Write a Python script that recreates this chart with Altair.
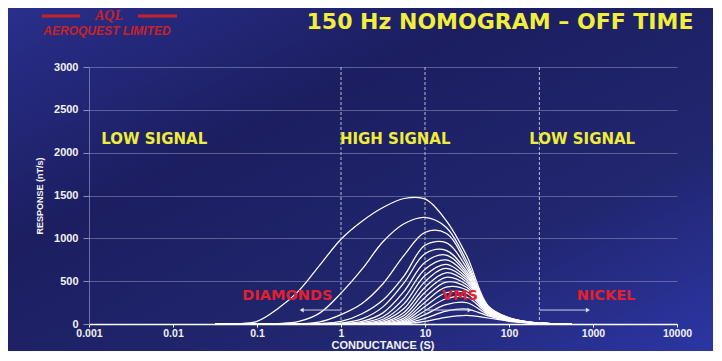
import altair as alt
import pandas as pd

# ---------------- data ----------------
conductance = [0.0316, 0.0562, 0.1, 0.178, 0.316, 0.562, 1.0, 1.78, 3.16, 5.62,
               10.0, 17.8, 31.6, 56.2, 100.0, 178.0, 316.0, 562.0]

curve_01 = [0, 3, 30, 180, 390, 690, 990, 1200, 1360, 1465, 1460, 1210, 790, 215, 75, 22, 5, 0]
curve_02 = [0, 0, 0, 5, 30, 130, 360, 640, 960, 1170, 1245, 1130, 730, 205, 72, 21, 5, 0]
curve_03 = [0, 0, 0, 0, 3, 25, 110, 240, 470, 800, 1070, 1060, 690, 195, 70, 20, 5, 0]
curve_04 = [0, 0, 0, 0, 0, 5, 30, 120, 280, 560, 920, 950, 650, 190, 68, 20, 5, 0]
curve_05 = [0, 0, 0, 0, 0, 0, 10, 60, 200, 480, 820, 860, 610, 185, 66, 19, 5, 0]
curve_06 = [0, 0, 0, 0, 0, 0, 2, 30, 130, 380, 720, 805, 585, 180, 64, 19, 4, 0]
curve_07 = [0, 0, 0, 0, 0, 0, 0, 15, 85, 300, 640, 748, 560, 175, 62, 18, 4, 0]
curve_08 = [0, 0, 0, 0, 0, 0, 0, 5, 55, 235, 565, 697, 535, 170, 60, 18, 4, 0]
curve_09 = [0, 0, 0, 0, 0, 0, 0, 2, 35, 180, 495, 650, 510, 165, 58, 17, 4, 0]
curve_10 = [0, 0, 0, 0, 0, 0, 0, 0, 20, 135, 430, 598, 485, 160, 56, 17, 4, 0]
curve_11 = [0, 0, 0, 0, 0, 0, 0, 0, 12, 100, 370, 545, 455, 155, 54, 16, 4, 0]
curve_12 = [0, 0, 0, 0, 0, 0, 0, 0, 6, 70, 310, 490, 425, 148, 52, 16, 4, 0]
curve_13 = [0, 0, 0, 0, 0, 0, 0, 0, 3, 48, 255, 430, 395, 140, 50, 15, 4, 0]
curve_14 = [0, 0, 0, 0, 0, 0, 0, 0, 1, 30, 205, 365, 360, 132, 48, 15, 4, 0]
curve_15 = [0, 0, 0, 0, 0, 0, 0, 0, 0, 18, 155, 295, 312, 122, 45, 14, 3, 0]
curve_16 = [0, 0, 0, 0, 0, 0, 0, 0, 0, 10, 110, 225, 248, 110, 42, 13, 3, 0]
curve_17 = [0, 0, 0, 0, 0, 0, 0, 0, 0, 5, 65, 150, 175, 95, 38, 12, 3, 0]
curve_18 = [0, 0, 0, 0, 0, 0, 0, 0, 0, 2, 30, 78, 100, 70, 32, 10, 3, 0]

curves = [curve_01, curve_02, curve_03, curve_04, curve_05, curve_06, curve_07,
          curve_08, curve_09, curve_10, curve_11, curve_12, curve_13, curve_14,
          curve_15, curve_16, curve_17, curve_18]

x_ticks = [0.001, 0.01, 0.1, 1, 10, 100, 1000, 10000]
y_ticks = [0, 500, 1000, 1500, 2000, 2500, 3000]
boundaries = [1, 10, 230]

zone_labels = ["LOW SIGNAL", "HIGH SIGNAL", "LOW SIGNAL"]
zone_x = [0.0014, 0.97, 174]
zone_y = [2160, 2160, 2160]

target_labels = ["DIAMONDS", "VMS", "NICKEL"]
target_x = [0.23, 26, 1430]
target_y = [327, 327, 327]
arrow_from = [1, 10, 230]
arrow_to = [0.34, 34, 870]
arrow_y = [163, 163, 163]
arrow_dir = ["left", "right", "right"]

x_title = "CONDUCTANCE (S)"

# ---------------- layout ----------------
W, H = 588, 257
PAD_L, PAD_T, PAD_R, PAD_B = 81, 59, 36, 27

rows = []
for i, vals in enumerate(curves):
    for c, r in zip(conductance, vals):
        rows.append({"curve": i + 1, "c": c, "r": r})
df = pd.DataFrame(rows)

xscale = alt.Scale(type="log", domain=[0.001, 10000], nice=False)
yscale = alt.Scale(domain=[0, 3000], nice=False)

X_AXIS = alt.Axis(
    values=x_ticks, format="~g", title=None, grid=False,
    domainColor="white", domainWidth=1.5, tickColor="white", tickSize=3,
    labelColor="#f2f2f2", labelFont="Liberation Sans", labelFontSize=10.5,
    labelFontWeight="bold", labelPadding=1, labelFlush=False, zindex=1)
Y_AXIS = alt.Axis(
    values=y_ticks, format="d", title="RESPONSE (nT/s)", grid=True,
    gridColor="#b8b8e0", gridOpacity=0.4, gridWidth=1,
    domainColor="#9090c0", domainOpacity=0.7, tickColor="#9090c0", tickSize=6,
    labelColor="#f2f2f2", labelFont="Liberation Sans", labelFontSize=11,
    labelFontWeight="bold", labelPadding=5,
    titleColor="#f2f2f2", titleFont="Liberation Sans", titleFontSize=9,
    titleFontWeight="bold", titlePadding=9, zindex=1)


def X(field):
    return alt.X(field, scale=xscale, axis=X_AXIS)


def Y(field):
    return alt.Y(field, scale=yscale, axis=Y_AXIS)


grad = alt.LinearGradient(
    gradient="linear",
    stops=[alt.GradientStop(color="#292f8c", offset=0),
           alt.GradientStop(color="#1c1e60", offset=0.35),
           alt.GradientStop(color="#21266f", offset=0.7),
           alt.GradientStop(color="#2c36a4", offset=1)],
    x1=0, y1=0, x2=1, y2=1)

bg = alt.Chart(pd.DataFrame({"a": [0]})).mark_rect(fill=grad).encode(
    x=alt.value(-PAD_L), x2=alt.value(W + PAD_R),
    y=alt.value(-PAD_T), y2=alt.value(H + PAD_B))

lines = alt.Chart(df).mark_line(
    interpolate="catmull-rom", color="white", strokeWidth=1.25, clip=True
).encode(x=X("c:Q"), y=Y("r:Q"), detail="curve:N")

vlines = alt.Chart(pd.DataFrame({"c": boundaries})).mark_rule(
    color="#d8d8ee", strokeWidth=1, strokeDash=[3, 2], opacity=0.85
).encode(x=X("c:Q"))

zones = alt.Chart(pd.DataFrame({"t": zone_labels, "c": zone_x, "r": zone_y})).mark_text(
    align="left", baseline="middle", font="DejaVu Sans", fontWeight="bold",
    fontSize=15, color="#f0ec3a"
).encode(x=X("c:Q"), y=Y("r:Q"), text="t:N")

targets = alt.Chart(pd.DataFrame({"t": target_labels, "c": target_x, "r": target_y})).mark_text(
    align="center", baseline="middle", font="DejaVu Sans", fontWeight="bold",
    fontSize=14.5, color="#e3202c"
).encode(x=X("c:Q"), y=Y("r:Q"), text="t:N")

adf = pd.DataFrame({"c": arrow_from, "c2": arrow_to, "r": arrow_y, "d": arrow_dir})
arrow_lines = alt.Chart(adf).mark_rule(color="#d0d0e0", strokeWidth=1).encode(
    x=X("c:Q"), x2="c2:Q", y=Y("r:Q"))
arrow_heads = alt.Chart(adf).mark_point(filled=True, size=22, color="#e0e0ee", opacity=1).encode(
    x=X("c2:Q"), y=Y("r:Q"),
    shape=alt.Shape("d:N", scale=alt.Scale(domain=["left", "right"],
                                           range=["triangle-left", "triangle-right"]),
                    legend=None))

xtitle = alt.Chart(pd.DataFrame({"t": [x_title]})).mark_text(
    align="center", baseline="alphabetic", font="Liberation Sans", fontWeight="bold",
    fontSize=11, color="#f2f2f2"
).encode(x=alt.value(W / 2), y=alt.value(H + 25), text="t:N")

title = alt.Chart(pd.DataFrame({"t": ["150 Hz NOMOGRAM \u2013 OFF TIME"]})).mark_text(
    align="center", baseline="middle", font="DejaVu Sans", fontWeight="bold",
    fontSize=22, color="#f2ee3c"
).encode(x=alt.value(411), y=alt.value(-45), text="t:N")

logo_rules = alt.Chart(pd.DataFrame({"a": [0]})).mark_rule(
    color="#c82226", strokeWidth=3
).encode(x=alt.value(-47), x2=alt.value(-9), y=alt.value(-51))
logo_rules2 = alt.Chart(pd.DataFrame({"a": [0]})).mark_rule(
    color="#c82226", strokeWidth=3
).encode(x=alt.value(49), x2=alt.value(88), y=alt.value(-51))
logo_aql = alt.Chart(pd.DataFrame({"t": ["AQL"]})).mark_text(
    align="center", baseline="middle", font="Liberation Serif", fontStyle="italic",
    fontWeight="bold", fontSize=14, color="#c82226"
).encode(x=alt.value(20), y=alt.value(-51), text="t:N")
logo_name = alt.Chart(pd.DataFrame({"t": ["AEROQUEST LIMITED"]})).mark_text(
    align="center", baseline="middle", font="Liberation Sans", fontStyle="italic",
    fontWeight="bold", fontSize=12, color="#c82226"
).encode(x=alt.value(18), y=alt.value(-36), text="t:N")

chart = alt.layer(
    bg, lines, vlines, zones, targets, arrow_lines, arrow_heads, xtitle,
    title, logo_rules, logo_rules2, logo_aql, logo_name
).properties(
    width=W, height=H,
    autosize=alt.AutoSizeParams(type="none"),
    padding={"left": PAD_L, "top": PAD_T, "right": PAD_R, "bottom": PAD_B},
    background="#1f2370"
).configure_view(stroke=None)

chart.save("out.html", embed_options={"renderer": "svg", "actions": False})
